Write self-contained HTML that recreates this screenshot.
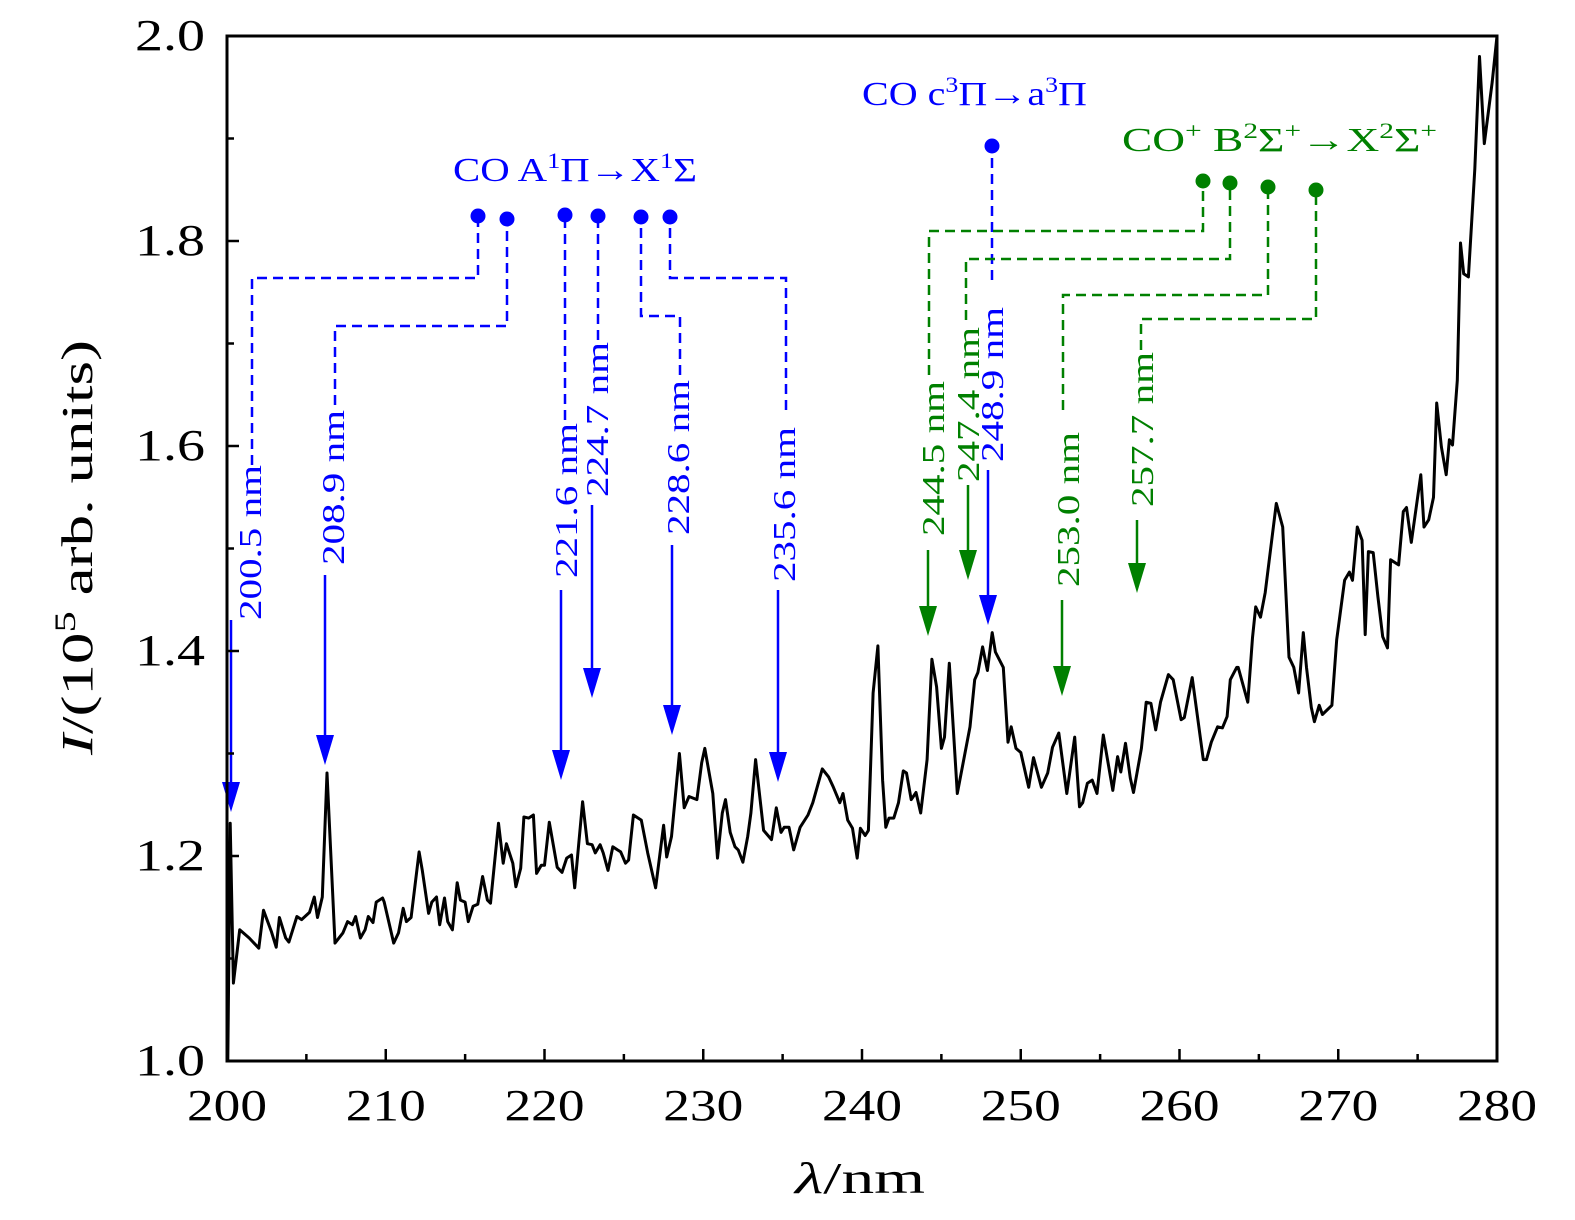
<!DOCTYPE html>
<html><head><meta charset="utf-8"><style>
html,body{margin:0;padding:0;background:#fff;}
svg{display:block;font-family:"Liberation Serif",serif;}
</style></head><body>
<svg id="chart" width="1575" height="1220" viewBox="0 0 1575 1220" xmlns="http://www.w3.org/2000/svg">
<g id="g-ann"></g>
<g id="g-line"></g>
<g id="g-axes"></g>
<text x="453" y="181" font-size="34" fill="#0000ff" textLength="244" lengthAdjust="spacingAndGlyphs">CO  A<tspan font-size="22" dy="-13">1</tspan><tspan dy="13">Π→X</tspan><tspan font-size="22" dy="-13">1</tspan><tspan dy="13">Σ</tspan></text>
<text x="862" y="105" font-size="34" fill="#0000ff" textLength="225" lengthAdjust="spacingAndGlyphs">CO  c<tspan font-size="22" dy="-13">3</tspan><tspan dy="13">Π→a</tspan><tspan font-size="22" dy="-13">3</tspan><tspan dy="13">Π</tspan></text>
<text x="1122" y="151" font-size="34" fill="#008000" textLength="315" lengthAdjust="spacingAndGlyphs">CO<tspan font-size="22" dy="-13">+</tspan><tspan dy="13">  B</tspan><tspan font-size="22" dy="-13">2</tspan><tspan dy="13">Σ</tspan><tspan font-size="22" dy="-13">+</tspan><tspan dy="13">→X</tspan><tspan font-size="22" dy="-13">2</tspan><tspan dy="13">Σ</tspan><tspan font-size="22" dy="-13">+</tspan></text>
<text x="795" y="1193" font-size="44" textLength="130" lengthAdjust="spacingAndGlyphs"><tspan font-style="italic">λ</tspan>/nm</text>
<text transform="translate(92,755) rotate(-90)" font-size="44" textLength="415" lengthAdjust="spacingAndGlyphs"><tspan font-style="italic">I</tspan>/(10<tspan font-size="30" dy="-17">5</tspan><tspan dy="17"> arb. units)</tspan></text>
</svg>
<script>
// spectrum as [wavelength nm, intensity 1e5 arb. units]
const spectrum = [
[200.0,1.10],[200.05,1.0],[200.2,1.232],[200.4,1.076],[200.8,1.128],[201.4,1.12],[202.0,1.11],[202.3,1.147],[202.8,1.126],[203.1,1.111],[203.3,1.14],[203.7,1.12],[203.9,1.116],[204.4,1.141],[204.7,1.138],[205.2,1.145],[205.5,1.16],[205.7,1.14],[206.0,1.16],[206.3,1.281],[206.8,1.115],[207.3,1.125],[207.6,1.136],[207.9,1.133],[208.1,1.141],[208.4,1.12],[208.7,1.128],[208.9,1.141],[209.2,1.135],[209.4,1.155],[209.8,1.159],[209.9,1.155],[210.5,1.115],[210.8,1.125],[211.1,1.149],[211.3,1.136],[211.6,1.14],[212.1,1.204],[212.3,1.186],[212.7,1.144],[212.9,1.155],[213.2,1.16],[213.4,1.133],[213.7,1.159],[213.9,1.136],[214.2,1.128],[214.5,1.174],[214.7,1.157],[215.0,1.155],[215.2,1.136],[215.5,1.151],[215.8,1.153],[216.1,1.18],[216.4,1.157],[216.6,1.154],[217.1,1.232],[217.4,1.193],[217.6,1.212],[218.0,1.193],[218.2,1.17],[218.5,1.188],[218.7,1.238],[219.0,1.237],[219.3,1.24],[219.5,1.183],[219.8,1.191],[220.0,1.191],[220.3,1.233],[220.8,1.189],[221.1,1.184],[221.4,1.198],[221.7,1.201],[221.9,1.169],[222.4,1.253],[222.7,1.212],[223.0,1.211],[223.2,1.203],[223.5,1.211],[223.7,1.203],[224.0,1.186],[224.3,1.209],[224.6,1.206],[224.8,1.204],[225.1,1.193],[225.3,1.196],[225.6,1.24],[226.1,1.235],[226.5,1.203],[227.0,1.169],[227.5,1.23],[227.7,1.199],[228.0,1.219],[228.5,1.3],[228.8,1.247],
[229.1,1.258],[229.6,1.255],[229.9,1.291],[230.1,1.305],[230.6,1.261],[230.9,1.198],[231.2,1.242],[231.4,1.255],[231.7,1.223],[232.0,1.209],[232.2,1.206],[232.5,1.194],[232.8,1.219],[233.0,1.242],[233.3,1.294],[233.8,1.225],[234.3,1.216],[234.6,1.247],[234.9,1.223],[235.1,1.228],[235.4,1.228],[235.7,1.206],[236.1,1.228],[236.6,1.24],[236.9,1.252],[237.5,1.285],[237.9,1.277],[238.2,1.267],[238.6,1.252],[238.8,1.261],[239.1,1.235],[239.4,1.227],[239.7,1.198],[239.9,1.227],[240.2,1.22],[240.4,1.225],[240.7,1.359],[241.0,1.405],[241.3,1.274],[241.5,1.228],[241.7,1.237],[242.0,1.237],[242.3,1.252],[242.6,1.283],[242.8,1.281],[243.1,1.255],[243.4,1.262],[243.7,1.242],[244.1,1.294],[244.4,1.392],[244.7,1.365],[245.0,1.305],[245.2,1.316],[245.5,1.388],[246.0,1.261],[246.8,1.326],[247.1,1.372],[247.3,1.379],[247.6,1.404],[247.9,1.381],[248.2,1.418],[248.4,1.399],[248.9,1.384],[249.2,1.311],[249.4,1.326],[249.7,1.305],[250.0,1.301],[250.5,1.267],[250.8,1.296],[251.3,1.267],[251.7,1.281],[252.0,1.306],[252.4,1.32],[252.9,1.261],[253.4,1.316],[253.7,1.248],[253.9,1.252],[254.2,1.271],[254.5,1.274],[254.8,1.261],
[255.2,1.318],[255.8,1.264],[256.1,1.297],[256.3,1.282],[256.6,1.31],[256.9,1.276],[257.1,1.262],[257.6,1.305],[257.9,1.35],[258.2,1.349],[258.5,1.323],[258.8,1.35],[259.3,1.377],[259.6,1.372],[260.1,1.333],[260.3,1.335],[260.8,1.374],[261.5,1.294],[261.7,1.294],[262.0,1.311],[262.4,1.326],[262.7,1.325],[263.0,1.336],[263.2,1.372],[263.6,1.384],[263.7,1.384],[264.3,1.35],[264.6,1.413],[264.8,1.443],[265.1,1.433],[265.4,1.457],[266.1,1.544],[266.5,1.521],[266.9,1.394],[267.2,1.384],[267.5,1.359],[267.8,1.418],[268.0,1.384],[268.3,1.345],[268.5,1.331],[268.8,1.347],[269.0,1.338],[269.6,1.347],[269.9,1.411],[270.4,1.469],[270.7,1.477],[270.9,1.469],[271.2,1.521],[271.5,1.508],[271.7,1.416],[271.9,1.497],[272.2,1.496],[272.5,1.453],[272.8,1.414],[273.1,1.403],[273.3,1.489],[273.8,1.484],[274.1,1.536],[274.3,1.54],[274.6,1.506],[275.2,1.572],[275.4,1.521],[275.7,1.528],[276.0,1.55],[276.2,1.642],[276.5,1.599],[276.8,1.572],[277.0,1.606],[277.2,1.601],[277.5,1.664],[277.7,1.798],[277.9,1.768],[278.2,1.765],[278.6,1.87],[278.9,1.98],[279.2,1.895],[279.7,1.955],[280.0,2.0]
];
const xTicks = [200,210,220,230,240,250,260,270,280];
const yTicks = [1.0,1.2,1.4,1.6,1.8,2.0];
const yTickLabels = ["1.0","1.2","1.4","1.6","1.8","2.0"];

const X0=227,X1=1497,Y0=1061,Y1=36;
const sx = v => X0 + (v-200)/80*(X1-X0);
const sy = v => Y0 - (v-1)/1*(Y0-Y1);
const NS="http://www.w3.org/2000/svg";
function mk(tag, attrs, parent){const e=document.createElementNS(NS,tag);for(const k in attrs)e.setAttribute(k,attrs[k]);parent.appendChild(e);return e;}

const gl=document.getElementById('g-line');
let d='';spectrum.forEach((p,i)=>{d+=(i?'L':'M')+sx(p[0]).toFixed(1)+' '+sy(p[1]).toFixed(1);});
const path=mk('path',{d:d,fill:'none',stroke:'#000','stroke-width':3,'stroke-linejoin':'round'},gl);



const ga=document.getElementById('g-axes');
const frame=mk('rect',{x:X0,y:Y1,width:X1-X0,height:Y0-Y1,fill:'none',stroke:'#000','stroke-width':3},ga);


for(let v=200;v<=280;v+=5){const maj=v%10===0;mk('line',{x1:sx(v),x2:sx(v),y1:Y0,y2:Y0-(maj?12:7),stroke:'#000','stroke-width':2.5},ga);}
for(let k=0;k<=10;k++){const v=1+k*0.1;const maj=k%2===0;mk('line',{x1:X0,x2:X0+(maj?12:7),y1:sy(v),y2:sy(v),stroke:'#000','stroke-width':2.5},ga);}
xTicks.forEach(v=>{const t=mk('text',{x:sx(v)-40,y:1120,'font-size':44,textLength:80,lengthAdjust:'spacingAndGlyphs'},ga);t.textContent=v;

});
yTicks.forEach((v,i)=>{const t=mk('text',{x:135,y:sy(v)+14,'font-size':44,textLength:70,lengthAdjust:'spacingAndGlyphs'},ga);t.textContent=yTickLabels[i];

});

const ann=[
 ['200.5 nm',231,620,812,250,620,[[252,465],[252,278],[478,278],[478,216]],'#0000ff'],
 ['208.9 nm',325,575,765,333,565,[[335,405],[335,326],[507,326],[507,219]],'#0000ff'],
 ['221.6 nm',561,590,780,566,578,[[565,420],[565,215]],'#0000ff'],
 ['224.7 nm',592,505,698,597,497,[[598,340],[598,216]],'#0000ff'],
 ['228.6 nm',672,545,735,678,535,[[680,375],[680,316],[641,316],[641,217]],'#0000ff'],
 ['235.6 nm',778,590,782,784,582,[[786,410],[786,278],[670,278],[670,217]],'#0000ff'],
 ['248.9 nm',988,470,625,992,462,[[992,280],[992,146]],'#0000ff'],
 ['244.5 nm',928,550,636,933,536,[[929,375],[929,231],[1203,231],[1203,181]],'#008000'],
 ['247.4 nm',968,485,580,968,482,[[966,320],[966,259],[1230,259],[1230,183]],'#008000'],
 ['253.0 nm',1062,600,696,1068,587,[[1063,410],[1063,295],[1268,295],[1268,187]],'#008000'],
 ['257.7 nm',1137,520,593,1142,507,[[1141,350],[1141,319],[1316,319],[1316,190]],'#008000']
];
const gA=document.getElementById('g-ann');
ann.forEach(a=>{
 const [lab,ax,at,tip,lx,lb,pts,col]=a;
 const g=mk('g',{},gA);
 
 
 mk('line',{x1:ax,x2:ax,y1:at,y2:tip-28,stroke:col,'stroke-width':2.5},g);
 mk('polygon',{points:`${ax-9},${tip-30} ${ax+9},${tip-30} ${ax},${tip}`,fill:col},g);
 const t=mk('text',{transform:`translate(${lx+11},${lb}) rotate(-90)`,'font-size':32,fill:col,textLength:155,lengthAdjust:'spacingAndGlyphs'},g);t.textContent=lab;
 mk('polyline',{points:pts.map(p=>p.join(',')).join(' '),fill:'none',stroke:col,'stroke-width':2.5,'stroke-dasharray':'10,6'},g);
 const last=pts[pts.length-1];
 mk('circle',{cx:last[0],cy:last[1],r:7.5,fill:col},g);
});
</script>
</body></html>
